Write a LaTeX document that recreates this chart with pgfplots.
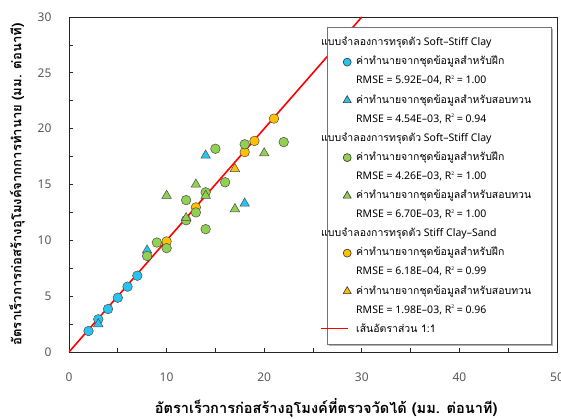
\documentclass[border=0pt]{standalone}
\usepackage{fontspec}
\setmainfont{Noto Sans}
\newfontfamily\thaifont[Script=Thai]{Loma}
\usepackage{pgfplots}
\pgfplotsset{compat=1.18}
\usetikzlibrary{calc}
\definecolor{cBlue}{RGB}{40,195,240}
\definecolor{cGreen}{RGB}{146,208,80}
\definecolor{cYellow}{RGB}{255,192,0}
\newcommand{\thx}[1]{{\thaifont #1}}
\newcommand{\Rsq}{R\raisebox{0.75ex}{\fontsize{5}{5}\selectfont 2}}
\newcommand{\hdr}[1]{\hspace*{-35pt}#1}
\pgfplotsset{
  legmark/.style={legend image code/.code={\draw[##1] plot coordinates {(14pt,0pt)};}},
  circ/.style={only marks, mark=*, mark size=4.8pt, mark options={fill=#1, draw=black!70, line width=0.5pt}},
  tri/.style={only marks, mark=triangle*, mark size=5.5pt, mark options={fill=#1, draw=black!70, line width=0.5pt}},
  lcirc/.style={only marks, mark=*, mark size=4pt, mark options={fill=#1, draw=black!80, line width=0.6pt}, legmark},
  ltri/.style={only marks, mark=triangle*, mark size=4.6pt, mark options={fill=#1, draw=black!80, line width=0.6pt}, legmark},
}
\begin{document}
\begin{tikzpicture}
\begin{axis}[
  scale only axis, width=488pt, height=335pt,
  xmin=0, xmax=50, ymin=0, ymax=30,
  xtick={0,10,...,50}, ytick={0,5,...,30},
  minor xtick={5,15,...,45}, minor ytick={2.5,7.5,...,27.5},
  tick align=inside, xtick pos=bottom, ytick pos=left,
  major tick length=4pt, minor tick length=4pt,
  axis line style={black!85, line width=0.7pt}, tick style={black!85, line width=0.7pt},
  /pgf/number format/assume math mode=true,
  tick label style={font=\fontsize{12}{14}\selectfont, text=black!65},
  xticklabel style={yshift=-17pt},
  yticklabel style={xshift=-14pt},
  xlabel={\thx{\bfseries อัตราเร็วการก่อสร้างอุโมงค์ที่ตรวจวัดได้ (มม. ต่อนาที)}},
  ylabel={\thx{\bfseries อัตราเร็วการก่อสร้างอุโมงค์จากการทำนาย (มม. ต่อนาที)}},
  xlabel style={font=\fontsize{14.6}{16}\selectfont, at={(axis description cs:0.527,-0.167)}, anchor=center},
  ylabel style={font=\fontsize{13.1}{15}\selectfont, at={(axis description cs:-0.1066,0.5)}, anchor=center},
  legend cell align=left,
  legend style={at={(rel axis cs:0.5287,0.958)}, anchor=north west,
    draw=none, fill=none,
    font=\fontsize{10.5}{12}\selectfont,
    nodes={inner sep=1pt, text height=8.5pt, text depth=3pt},
    row sep=5.6pt, column sep=4pt, inner xsep=6pt, inner ysep=5pt},
]
% 1:1 line
\addplot[red, line width=1.6pt, forget plot] coordinates {(0,0) (30,30)};
% data
\addplot[circ=cBlue, forget plot] coordinates {(2,1.88) (3,2.93) (4,3.85) (5,4.86) (6,5.85) (7,6.83)};
\addplot[tri=cBlue, forget plot] coordinates {(3,2.5) (8,9.1) (14,17.6) (18,13.3)};
\addplot[circ=cYellow, forget plot] coordinates {(10,9.9) (13,12.95) (18,17.9) (19,18.9) (21,20.9)};
\addplot[tri=cYellow, forget plot] coordinates {(17,16.4)};
\addplot[circ=cGreen, forget plot] coordinates {(8,8.6) (9,9.8) (10,9.3) (12,11.8) (12,13.6) (13,12.5) (14,11.0) (14,14.3) (15,18.2) (16,15.2) (18,18.6) (22,18.8)};
\addplot[tri=cGreen, forget plot] coordinates {(10,14.0) (12,12.0) (13,15.0) (14,14.0) (17,12.8) (20,17.8)};
% legend box with shadow
\fill[black!30] ([xshift=2.2pt,yshift=-2.2pt]rel axis cs:0.5287,0.0239) rectangle ([xshift=2.2pt,yshift=-2.2pt]rel axis cs:0.9877,0.9701);
\filldraw[fill=white, draw=black!55, line width=0.6pt] (rel axis cs:0.5287,0.0239) rectangle (rel axis cs:0.9877,0.9701);
% legend
\addlegendimage{empty legend}
\addlegendentry{\hdr{\thx{แบบจำลองการทรุดตัว} Soft–Stiff Clay}}
\addlegendimage{lcirc=cBlue}
\addlegendentry{\thx{ค่าทำนายจากชุดข้อมูลสำหรับฝึก}}
\addlegendimage{empty legend}
\addlegendentry{RMSE = 5.92E–04, \Rsq{} = 1.00}
\addlegendimage{ltri=cBlue}
\addlegendentry{\thx{ค่าทำนายจากชุดข้อมูลสำหรับสอบทวน}}
\addlegendimage{empty legend}
\addlegendentry{RMSE = 4.54E–03, \Rsq{} = 0.94}
\addlegendimage{empty legend}
\addlegendentry{\hdr{\thx{แบบจำลองการทรุดตัว} Soft–Stiff Clay}}
\addlegendimage{lcirc=cGreen}
\addlegendentry{\thx{ค่าทำนายจากชุดข้อมูลสำหรับฝึก}}
\addlegendimage{empty legend}
\addlegendentry{RMSE = 4.26E–03, \Rsq{} = 1.00}
\addlegendimage{ltri=cGreen}
\addlegendentry{\thx{ค่าทำนายจากชุดข้อมูลสำหรับสอบทวน}}
\addlegendimage{empty legend}
\addlegendentry{RMSE = 6.70E–03, \Rsq{} = 1.00}
\addlegendimage{empty legend}
\addlegendentry{\hdr{\thx{แบบจำลองการทรุดตัว} Stiff Clay–Sand}}
\addlegendimage{lcirc=cYellow}
\addlegendentry{\thx{ค่าทำนายจากชุดข้อมูลสำหรับฝึก}}
\addlegendimage{empty legend}
\addlegendentry{RMSE = 6.18E–04, \Rsq{} = 0.99}
\addlegendimage{ltri=cYellow}
\addlegendentry{\thx{ค่าทำนายจากชุดข้อมูลสำหรับสอบทวน}}
\addlegendimage{empty legend}
\addlegendentry{RMSE = 1.98E–03, \Rsq{} = 0.96}
\addlegendimage{empty legend}
\addlegendentry{\hspace*{-35pt}\textcolor{red}{\rule[3.3pt]{27pt}{1.1pt}}\hspace*{8pt}\thx{เส้นอัตราส่วน 1:1}}
\end{axis}
\pgfresetboundingbox
\path[use as bounding box] ($(current axis.south west)+(-69pt,-67pt)$) rectangle ($(current axis.north east)+(4pt,17pt)$);
\end{tikzpicture}
\end{document}
